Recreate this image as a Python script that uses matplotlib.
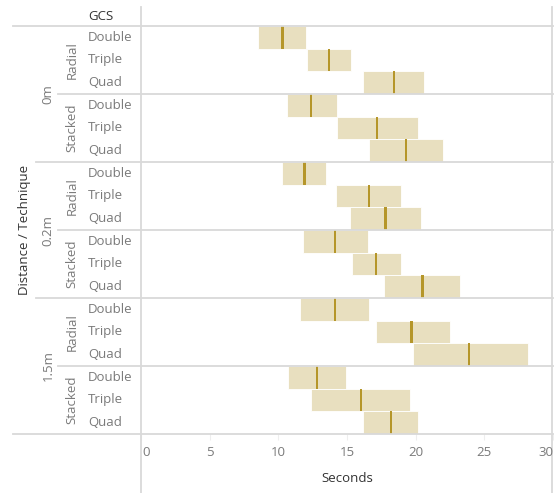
import matplotlib.pyplot as plt

# Data (seconds): one box per row, low / median / high
distances = ['0m', '0.2m', '1.5m']
techniques = ['Radial', 'Stacked']
patterns = ['Double', 'Triple', 'Quad']

low = [8.5, 12.1, 16.2, 10.6, 14.3, 16.6,
       10.3, 14.2, 15.2, 11.8, 15.4, 17.7,
       11.6, 17.1, 19.8, 10.7, 12.4, 16.2]
median = [10.3, 13.7, 18.4, 12.4, 17.2, 19.3,
          11.9, 16.6, 17.8, 14.1, 17.1, 20.5,
          14.1, 19.7, 23.9, 12.8, 16.0, 18.2]
high = [12.0, 15.3, 20.6, 14.3, 20.2, 22.0,
        13.5, 18.9, 20.4, 16.5, 18.9, 23.2,
        16.6, 22.5, 28.2, 14.9, 19.6, 20.2]

x_ticks = [0, 5, 10, 15, 20, 25, 30]

box_col = '#e8dfbf'
med_col = '#b5962a'
line_col = '#d9d9d9'
lab_col = '#7a7a7a'
dark = '#333333'

plt.rcParams['font.family'] = ['Open Sans', 'DejaVu Sans']

W, H = 554, 493
fig = plt.figure(figsize=(W / 100, H / 100), dpi=100)
x0, x1, y0, y1 = 141, 553, 26, 434
ax = fig.add_axes([x0 / W, (H - y1) / H, (x1 - x0) / W, (y1 - y0) / H])

n = len(low)
rows = list(range(n))
ax.barh(rows, [h - l for l, h in zip(low, high)], left=low, height=1.0,
        color=box_col, edgecolor='white', linewidth=0.6)
ax.barh(rows, [0.16] * n, left=[m - 0.08 for m in median], height=1.0,
        color=med_col, linewidth=0)

ax.set_xlim(0, 30)
ax.set_ylim(n - 0.5, -0.5)
for s in ax.spines.values():
    s.set_visible(False)
ax.set_yticks([])
ax.set_xticks(x_ticks)
ax.set_xticklabels([])
ax.tick_params(axis='x', length=4, color='#eeeeee', direction='out')


def px(x):
    # figure pixel x -> axes fraction
    return (x - x0) / (x1 - x0)


def py(y):
    return (y1 - y) / (y1 - y0)


yt = ax.get_yaxis_transform()
xt = ax.get_xaxis_transform()

# tick labels
for t in x_ticks:
    ha = 'left' if t == 0 else ('right' if t == 30 else 'center')
    ax.text(t + (0.1 if t == 0 else 0), py(452), str(t), transform=xt,
            ha=ha, va='center', fontsize=9.5, color=lab_col, clip_on=False)
ax.text(0.5, py(478), 'Seconds', transform=ax.transAxes, ha='center',
        va='center', fontsize=9.5, color=dark)

# row / group labels
i = 0
for d in distances:
    for t in techniques:
        for p in patterns:
            ax.text(px(88), i, p, transform=yt, ha='left', va='center',
                    fontsize=9.5, color=lab_col, clip_on=False)
            i += 1
        ax.text(px(72), i - 2, t, transform=yt, ha='center', va='center',
                rotation=90, fontsize=9.5, color=lab_col, clip_on=False)
    ax.text(px(48), i - 3.5, d, transform=yt, ha='center', va='center',
            rotation=90, fontsize=9.5, color=lab_col, clip_on=False)

ax.text(px(25), 0.5, 'Distance / Technique', transform=ax.transAxes,
        ha='center', va='center', rotation=90, fontsize=9.5, color=dark)
ax.text(px(88), py(16), 'GCS', transform=ax.transAxes, ha='left',
        va='center', fontsize=9.5, color=dark)

# separators
seps = [(-0.5, 13), (2.5, 58), (5.5, 36), (8.5, 58), (11.5, 36),
        (14.5, 58), (17.5, 13)]
for y, xs in seps:
    ax.plot([px(xs), 1], [y, y], transform=yt, color=line_col, lw=1.3,
            clip_on=False)
for xv in (x0, 552):
    ax.plot([px(xv), px(xv)], [py(7), py(493)], transform=ax.transAxes,
            color=line_col, lw=1.3, clip_on=False)

fig.savefig('out.png', dpi=100)
